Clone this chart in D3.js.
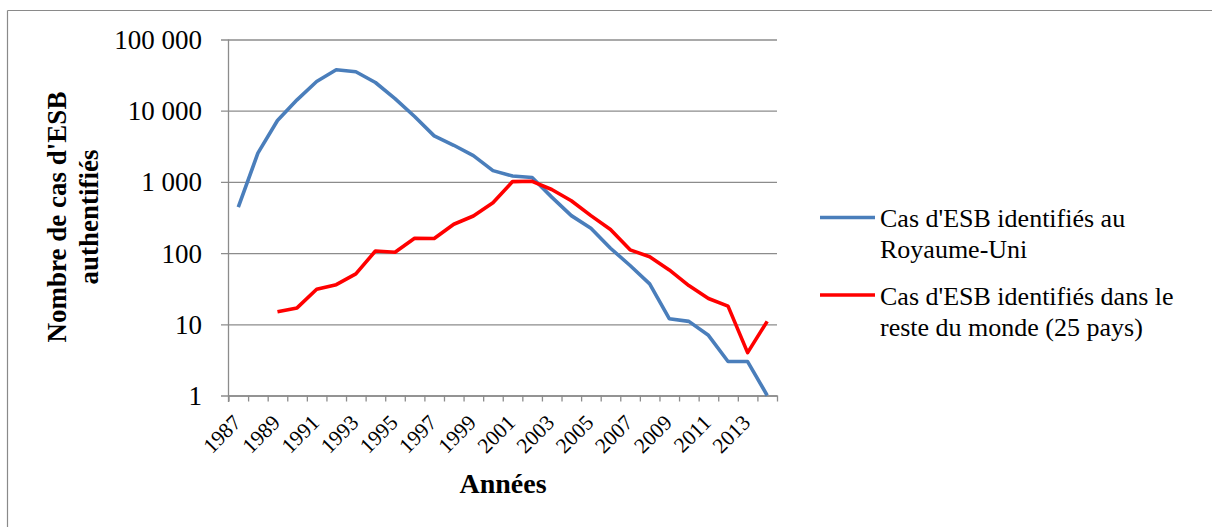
<!DOCTYPE html>
<html>
<head>
<meta charset="utf-8">
<script src="https://cdnjs.cloudflare.com/ajax/libs/d3/7.8.5/d3.min.js"></script>
<style>
  html, body { margin: 0; padding: 0; background: #fff; }
  svg { display: block; }
  text { font-family: "Liberation Serif", "Times New Roman", serif; fill: #000; }
</style>
</head>
<body>
<svg id="chart" width="1212" height="527"></svg>
<script>
const years = d3.range(1987, 2015);
const ukCases = [442, 2530, 7280, 14200, 25700, 37500, 35200, 24900, 14800, 8280, 4430, 3270, 2340, 1440, 1210, 1150, 611, 336, 223, 117, 67, 37, 12, 11, 7, 3, 3, 1];
const worldYears = d3.range(1989, 2015);
const worldCases = [15, 17, 31, 36, 51, 107, 103, 162, 160, 254, 332, 509, 1010, 1020, 782, 543, 336, 214, 111, 89, 58, 35, 23, 18, 4, 11];
const yTickValues = [1, 10, 100, 1000, 10000, 100000];
const xLabelYears = d3.range(1987, 2014, 2);
const seriesNames = [
  ["Cas d'ESB identifiés au", "Royaume-Uni"],
  ["Cas d'ESB identifiés dans le", "reste du monde (25 pays)"]
];
const seriesColors = ["#4a7ebb", "#ff0000"];
const yTitle = ["Nombre de cas d'ESB", "authentifiés"];
const xTitle = "Années";

const svg = d3.select("#chart");

// outer frame (top and left edges visible)
svg.append("line").attr("x1", 7.5).attr("x2", 1212).attr("y1", 10.5).attr("y2", 10.5)
  .attr("stroke", "#8a8a8a").attr("stroke-width", 1.2);
svg.append("line").attr("x1", 7.5).attr("x2", 7.5).attr("y1", 10.5).attr("y2", 527)
  .attr("stroke", "#8a8a8a").attr("stroke-width", 1.2);

const x = d3.scaleLinear().domain([1986.5, 2014.5]).range([228.5, 777]);
const y = d3.scaleLog().domain([1, 100000]).range([395.5, 39.5]);

const loc = d3.formatLocale({decimal: ",", thousands: " ", grouping: [3], currency: ["", " €"]});
const fmt = loc.format(",");

// gridlines + y axis labels
const yAxis = d3.axisLeft(y).tickValues(yTickValues).tickFormat(fmt)
  .tickSize(-(777 - 221)).tickPadding(19);
const gy = svg.append("g").attr("transform", "translate(221,0)").call(yAxis);
gy.select(".domain").remove();
gy.selectAll(".tick line").attr("stroke", "#8c8c8c").attr("stroke-width", 1.3);
gy.selectAll(".tick text").attr("font-size", 27).attr("font-family", "Liberation Serif").attr("dy", "0.33em");

// y axis line
svg.append("line").attr("x1", 228.5).attr("x2", 228.5).attr("y1", 39.5).attr("y2", 402)
  .attr("stroke", "#8c8c8c").attr("stroke-width", 1.3);

// x axis ticks
const xAxis = d3.axisBottom(x).tickValues(d3.range(1986.5, 2015, 1)).tickFormat("").tickSize(6).tickSizeOuter(0);
const gx = svg.append("g").attr("transform", "translate(0,395.5)").call(xAxis);
gx.select(".domain").attr("stroke", "#8c8c8c").attr("stroke-width", 1.3);
gx.selectAll(".tick line").attr("stroke", "#8c8c8c").attr("stroke-width", 1.3);

// x labels rotated
svg.append("g").selectAll("text").data(xLabelYears).join("text")
  .attr("transform", d => `translate(${x(d) + 4},${424}) rotate(-45)`)
  .attr("text-anchor", "end")
  .attr("font-size", 21.5)
  .text(d => d);

// lines
const line = d3.line().x(d => x(d[0])).y(d => y(d[1]));
svg.append("path").datum(years.map((yr, i) => [yr, ukCases[i]]))
  .attr("d", line).attr("fill", "none").attr("stroke", seriesColors[0])
  .attr("stroke-width", 3.6).attr("stroke-linejoin", "round");
svg.append("path").datum(worldYears.map((yr, i) => [yr, worldCases[i]]))
  .attr("d", line).attr("fill", "none").attr("stroke", seriesColors[1])
  .attr("stroke-width", 3.6).attr("stroke-linejoin", "round");

// axis titles
const yt = svg.append("text").attr("transform", "translate(0,217) rotate(-90)")
  .attr("text-anchor", "middle").attr("font-weight", "bold").attr("font-size", 27);
yt.append("tspan").attr("x", 0).attr("y", 66).text(yTitle[0]);
yt.append("tspan").attr("x", 0).attr("y", 98).text(yTitle[1]);

svg.append("text").attr("x", 503).attr("y", 493).attr("text-anchor", "middle")
  .attr("font-weight", "bold").attr("font-size", 28).text(xTitle);

// legend
const legY = [217.5, 295];
seriesNames.forEach((lines, i) => {
  svg.append("line").attr("x1", 820).attr("x2", 875).attr("y1", legY[i]).attr("y2", legY[i])
    .attr("stroke", seriesColors[i]).attr("stroke-width", 3.6);
  const t = svg.append("text").attr("font-size", 26);
  lines.forEach((s, j) => {
    t.append("tspan").attr("x", 880).attr("y", legY[i] + 9.5 + j * 31).text(s);
  });
});
</script>
</body>
</html>
